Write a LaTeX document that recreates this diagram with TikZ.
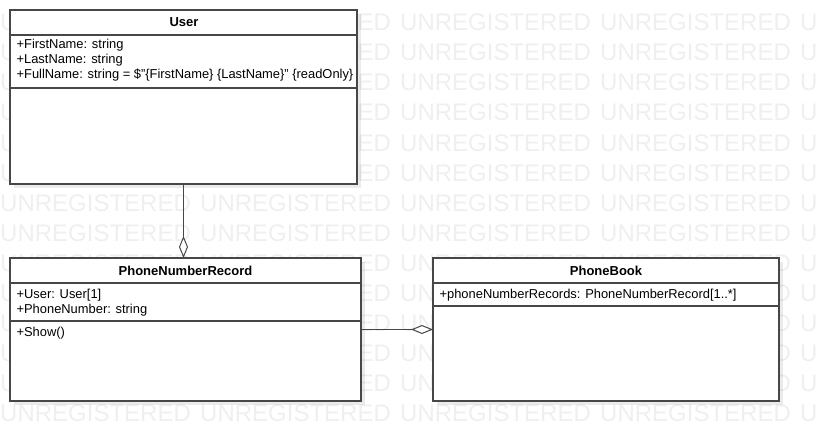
\documentclass[tikz,border=0pt]{standalone}
\usepackage{fontspec}
\setmainfont{Liberation Sans}
\usepackage{xcolor}
\usetikzlibrary{arrows.meta,shadows}
\definecolor{umlline}{HTML}{474747}
\definecolor{wmgray}{HTML}{EFEFEF}

\begin{document}
\begin{tikzpicture}[x=1pt,y=-1pt,
		classbox/.style={draw=umlline,line width=1.2pt,fill=white,anchor=north west,inner sep=0pt,outer sep=0pt,
			drop shadow={shadow xshift=4pt,shadow yshift=-4pt,opacity=0.08,fill=black}},
		title/.style={font=\fontsize{13}{15}\selectfont\bfseries,anchor=base,inner sep=0pt},
		member/.style={font=\fontsize{12.9}{15}\selectfont,anchor=base west,inner sep=0pt},
		wm/.style={font=\fontsize{24}{28}\selectfont,text=wmgray,anchor=base west,inner sep=0pt},
		aggr/.style={draw=umlline,line width=1.2pt,-{Diamond[fill=white,length=22pt,width=9pt,line width=1pt]}}]
	\useasboundingbox (0,0) rectangle (819,441);

	% watermark
	\foreach \row in {0,...,13}{%
			\foreach \col in {0,...,4}{%
					\node[wm] (wm-\row-\col) at (\col*200,31+\row*30) {UNREGISTERED};
				}
		}

	\begin{scope}[line width=1.2pt,draw=umlline]

		% User
		\node[classbox,minimum width=347pt,minimum height=174pt] (user) at (10,10) {};
		\draw[umlline] (10,35) -- (357,35);
		\draw[umlline] (10,88) -- (357,88);
		\node[title] (user-t) at (184,27) {User};
		\node[member] (user-a1) at (16,49) {+FirstName: string};
		\node[member] (user-a2) at (16,64) {+LastName: string};
		\node[member] (user-a3) at (16,79) {+FullName: string = \$"\{FirstName\} \{LastName\}" \{readOnly\}};

		% PhoneNumberRecord
		\node[classbox,minimum width=351pt,minimum height=143pt] (pnr) at (10,258) {};
		\draw[umlline] (10,283) -- (361,283);
		\draw[umlline] (10,321) -- (361,321);
		\node[title] (pnr-t) at (185.5,275) {PhoneNumberRecord};
		\node[member] (pnr-a1) at (16,298) {+User: User[1]};
		\node[member] (pnr-a2) at (16,313) {+PhoneNumber: string};
		\node[member] (pnr-o1) at (16,336) {+Show()};

		% PhoneBook
		\node[classbox,minimum width=346pt,minimum height=143pt] (pb) at (433,258) {};
		\draw[umlline] (433,283) -- (779,283);
		\draw[umlline] (433,306) -- (779,306);
		\node[title] (pb-t) at (606,275) {PhoneBook};
		\node[member] (pb-a1) at (439,298) {+phoneNumberRecords: PhoneNumberRecord[1..*]};

		% aggregations
		\draw[aggr] (user.south) -- (user.south |- pnr.north);
		\draw[aggr] (pnr.east) -- (pb.west);
	\end{scope}
\end{tikzpicture}
\end{document}
